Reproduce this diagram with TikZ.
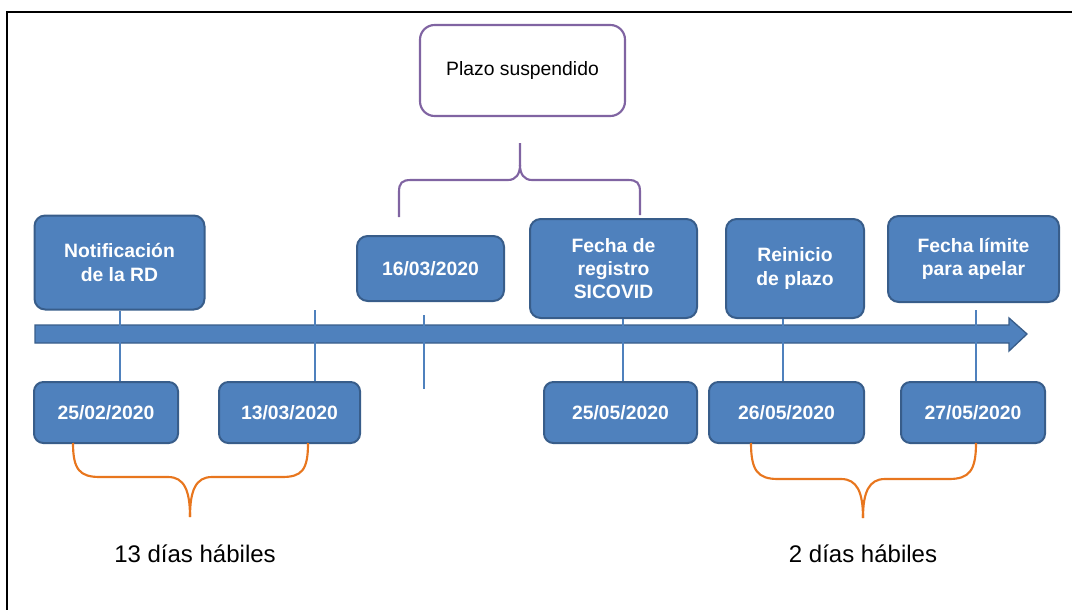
\documentclass[tikz,border=0pt]{standalone}
\usepackage{fontspec}
\setmainfont{Liberation Sans}
\definecolor{boxfill}{HTML}{4F81BD}
\definecolor{boxedge}{HTML}{385D8A}
\definecolor{purp}{HTML}{8064A2}
\definecolor{orng}{RGB}{232,118,30}
\tikzset{
  bx/.style n args={2}{draw=boxedge, fill=boxfill, line width=1.5pt, rounded corners=8pt,
    minimum width=#1*0.75pt, minimum height=#2*0.75pt, inner sep=0pt, align=center,
    text=white, font=\bfseries\fontsize{14.5}{17.5}\selectfont},
  datebx/.style n args={2}{bx={#1}{#2}, rounded corners=7pt},
  tick/.style={draw=boxfill, line width=0.8pt},
  purpbrace/.style={draw=purp, line width=1.6pt},
  orbrace/.style={draw=orng, line width=1.6pt},
}
\begin{document}
\begin{tikzpicture}[x=0.75pt, y=-0.75pt]
\useasboundingbox (0,0) rectangle (1075,610);
% frame
\draw[line width=1.5pt] (7,611) -- (7,12) -- (1072,12);
% main arrow
\filldraw[fill=boxfill, draw=boxedge, line width=1pt]
  (35,325) -- (1009,325) -- (1009,318) -- (1027,334) -- (1009,351) -- (1009,343) -- (35,343) -- cycle;
% top boxes
\node[bx={170}{94}] (notif) at (119.5,262.5) {Notificación\\de la RD};
\node[bx={147}{65}] (d3) at (430.5,268.5) {16/03/2020};
\node[bx={167}{99}] (reg) at (613.5,268.5) {Fecha de\\registro\\SICOVID};
\node[bx={138}{99}] (rei) at (795,268.5) {Reinicio\\de plazo};
\node[bx={171}{86}] (lim) at (973.5,259) {Fecha límite\\para apelar};
% bottom boxes
\node[datebx={144}{61}] (d1) at (106,412.5) {25/02/2020};
\node[datebx={141}{61}] (d2) at (289.5,412.5) {13/03/2020};
\node[datebx={153}{61}] (d4) at (620.5,412.5) {25/05/2020};
\node[datebx={155}{61}] (d5) at (786.5,412.5) {26/05/2020};
\node[datebx={144}{61}] (d6) at (973,412.5) {27/05/2020};
% suspended box
\node[draw=purp, fill=white, line width=1.6pt, rounded corners=11pt, minimum width=205*0.75pt,
  minimum height=91*0.75pt, font=\fontsize{14.5}{17.5}\selectfont] (plazo) at (522.5,70.5) {Plazo suspendido};
% tick coordinates
\coordinate (x120) at (120,0);
\coordinate (x315) at (315,0);
\coordinate (x623) at (623,0);
\coordinate (x783) at (783,0);
\coordinate (x976) at (976,0);
\coordinate (t2) at (315,310);
\coordinate (t3a) at (424,315);
\coordinate (t3b) at (424,389);
\coordinate (t6) at (976,310);
% ticks
\draw[tick] (notif.south -| x120) -- (d1.north -| x120);
\draw[tick] (t2) -- (d2.north -| x315);
\draw[tick] (t3a) -- (t3b);
\draw[tick] (reg.south -| x623) -- (d4.north -| x623);
\draw[tick] (rei.south -| x783) -- (d5.north -| x783);
\draw[tick] (t6) -- (d6.north -| x976);
% purple brace
\draw[purpbrace] (399,217) -- (399,192) .. controls (399,183) and (402,180) .. (411,180)
  -- (508,180) .. controls (516,180) and (520,174) .. (520,165) -- (520,143);
\draw[purpbrace] (520,165) .. controls (520,174) and (524,180) .. (532,180)
  -- (628,180) .. controls (637,180) and (640,183) .. (640,192) -- (640,215);
% orange braces
\draw[orbrace] (73,443) .. controls (73,470) and (80,477) .. (100,477) -- (168,477)
  .. controls (184,477) and (190,490) .. (190,517);
\draw[orbrace] (190,517) .. controls (190,490) and (196,477) .. (212,477) -- (282,477)
  .. controls (302,477) and (308,470) .. (308,443);
\draw[orbrace] (751,443) .. controls (751,471) and (758,479) .. (778,479) -- (841,479)
  .. controls (857,479) and (863,492) .. (863,518);
\draw[orbrace] (863,518) .. controls (863,492) and (869,479) .. (885,479) -- (949,479)
  .. controls (969,479) and (976,471) .. (976,443);
% labels
\node[anchor=base, font=\fontsize{18}{21}\selectfont, inner sep=0pt] (lab1) at (195,562) {13 días hábiles};
\node[anchor=base, font=\fontsize{18}{21}\selectfont, inner sep=0pt] (lab2) at (863,562) {2 días hábiles};
\end{tikzpicture}
\end{document}
